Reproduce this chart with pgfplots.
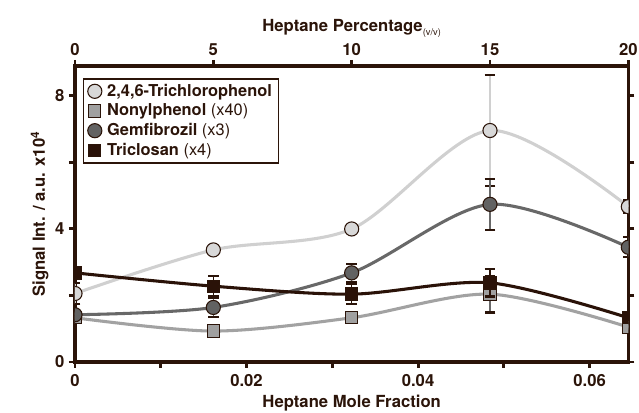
\documentclass[border=0pt]{standalone}
\usepackage{pgfplots}
\pgfplotsset{compat=1.18}
\usepackage{fontspec}
\setmainfont{TeX Gyre Heros}

\definecolor{axiscol}{HTML}{2B1409}
\definecolor{tcpfill}{HTML}{D8D8D8}
\definecolor{tcpline}{HTML}{D0D0D0}
\definecolor{npfill}{HTML}{A0A0A0}
\definecolor{npline}{HTML}{A2A2A2}
\definecolor{gemfill}{HTML}{626262}
\definecolor{gemline}{HTML}{686868}
\definecolor{tclfill}{HTML}{2A1208}

\pgfplotsset{
  frame/.style={
    scale only axis, width=415pt, height=222pt,
    at={(0,0)}, anchor=south west,
    ymin=0, ymax=8.9,
    axis line style={line width=2.6pt, color=axiscol},
    tick align=outside,
    major tick length=4.5pt,
    every tick/.style={line width=2.2pt, color=axiscol},
    /pgf/number format/assume math mode=true,
    tick label style={font=\bfseries\fontsize{12.5}{14}\selectfont, text=axiscol},
    label style={font=\bfseries\fontsize{12.5}{14}\selectfont, text=axiscol},
  },
  errs/.style={
    error bars/.cd, y dir=both, y explicit,
    error bar style={line width=1.1pt, color=#1},
    error mark options={rotate=90, mark size=4pt, line width=1.6pt, color=axiscol},
  },
}

\begin{document}
\begin{tikzpicture}
\path[use as bounding box] (-56.25pt,-38.25pt) rectangle (423pt,271.5pt);

% bottom scale: heptane mole fraction, left scale: signal
\begin{axis}[frame,
  xmin=0, xmax=0.06452,
  scaled x ticks=false,
  xtick={0,0.01,0.02,0.03,0.04,0.05,0.06},
  xticklabels={0,,0.02,,0.04,,0.06},
  xtick pos=left, ytick pos=left,
  ytick={0,2,4,6,8}, yticklabels={0,,4,,8},
  xlabel={Heptane Mole Fraction},
  ylabel={Signal Int. / a.u. x10\textsuperscript{4}},
  xticklabel style={yshift=-1.5pt},
  xlabel style={yshift=1pt},
  ylabel style={yshift=-2pt},
]
\end{axis}

% top scale: heptane percentage (v/v), data
\begin{axis}[frame,
  xmin=0, xmax=20,
  xtick={0,5,10,15,20},
  xtick pos=right, xticklabel pos=right,
  ytick={0,2,4,6,8}, ytick pos=right, yticklabels={},
  xlabel={Heptane Percentage\raisebox{-0.45ex}{\mdseries\fontsize{7}{8}\selectfont(v/v)}},
  xlabel style={yshift=-3pt},
  clip marker paths=true,
  legend cell align=left,
  legend style={at={(rel axis cs:0.0145,0.959)}, anchor=north west,
    draw=axiscol, line width=1.1pt, fill=white,
    font=\fontsize{12.3}{14}\selectfont, text=axiscol,
    row sep=0.2pt, column sep=2pt, inner xsep=3pt, inner ysep=2pt},
]
\addplot[smooth, line width=2.3pt, color=tcpline, forget plot,
  mark=*, mark size=5.3pt,
  mark options={fill=tcpfill, draw=axiscol, line width=0.8pt},
  errs=tcpline]
  coordinates {(0,2.06) +- (0,0.32) (5,3.37) +- (0,0.1) (10,4.00) +- (0,0.1)
               (15,6.96) +- (0,1.66) (20,4.67) +- (0,0.2)};
\addplot[smooth, line width=2.3pt, color=npline, forget plot,
  mark=square*, mark size=4.6pt,
  mark options={fill=npfill, draw=axiscol, line width=0.8pt},
  errs=gemline]
  coordinates {(0,1.33) +- (0,0.05) (5,0.93) +- (0,0.05) (10,1.33) +- (0,0.05)
               (15,2.04) +- (0,0.55) (20,1.05) +- (0,0.1)};
\addplot[smooth, line width=2.3pt, color=gemline, forget plot,
  mark=*, mark size=5.3pt,
  mark options={fill=gemfill, draw=axiscol, line width=0.8pt},
  errs=gemline]
  coordinates {(0,1.42) +- (0,0.1) (5,1.64) +- (0,0.3) (10,2.68) +- (0,0.27)
               (15,4.74) +- (0,0.76) (20,3.45) +- (0,0.3)};
\addplot[smooth, line width=2.3pt, color=tclfill, forget plot,
  mark=square*, mark size=4.6pt,
  mark options={fill=tclfill, draw=axiscol, line width=0.8pt},
  errs=axiscol]
  coordinates {(0,2.68) +- (0,0.1) (5,2.28) +- (0,0.3) (10,2.04) +- (0,0.3)
               (15,2.38) +- (0,0.41) (20,1.33) +- (0,0.15)};

\addlegendimage{only marks, mark=*, mark size=5.3pt, fill=tcpfill, draw=axiscol, line width=0.8pt}
\addlegendentry{\textbf{2,4,6-Trichlorophenol}}
\addlegendimage{only marks, mark=square*, mark size=4.6pt, fill=npfill, draw=axiscol, line width=0.8pt}
\addlegendentry{\textbf{Nonylphenol} (x40)}
\addlegendimage{only marks, mark=*, mark size=5.3pt, fill=gemfill, draw=axiscol, line width=0.8pt}
\addlegendentry{\textbf{Gemfibrozil} (x3)}
\addlegendimage{only marks, mark=square*, mark size=4.6pt, fill=tclfill, draw=axiscol, line width=0.8pt}
\addlegendentry{\textbf{Triclosan} (x4)}
\end{axis}
\end{tikzpicture}
\end{document}
